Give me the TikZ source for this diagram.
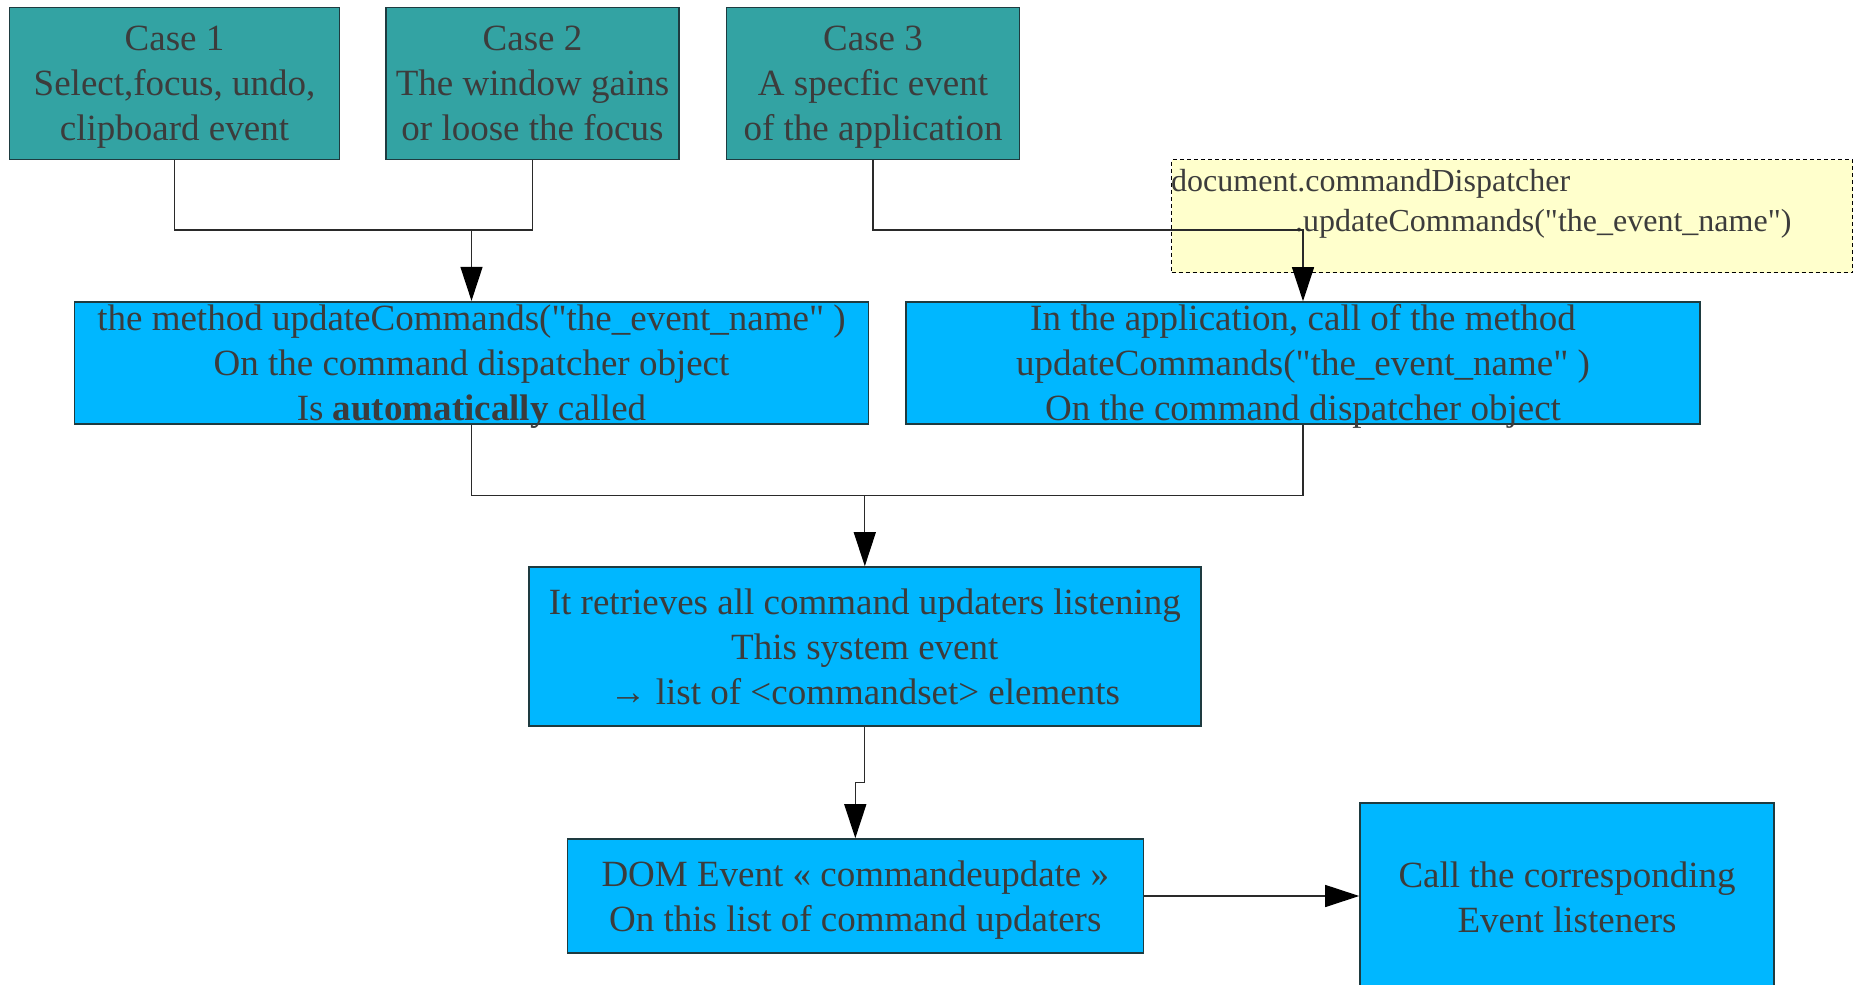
\documentclass[tikz,border=0pt]{standalone}
\usepackage{fontspec}
\setmainfont{Liberation Serif}[Ligatures=TeXOff]
\usepackage{tikz}
\usetikzlibrary{arrows.meta}
\definecolor{caseteal}{HTML}{33A3A3}
\definecolor{stepblue}{HTML}{00B7FF}
\definecolor{notefill}{HTML}{FFFFCC}
\definecolor{edge}{HTML}{1E3B40}
\definecolor{wire}{HTML}{2A2A2A}
\definecolor{txt}{HTML}{3C3C3C}
\newcommand\tstrut{\rule[-8pt]{0pt}{41pt}}
\newcommand\fitfirst[1]{\rule{0pt}{28pt}\smash{#1}}
\newcommand\fitlast[1]{\smash{#1}\rule[-3pt]{0pt}{3pt}}
\begin{document}
\begin{tikzpicture}[x=1pt,y=-1pt]
\tikzstyle{every node}=[inner sep=0pt,align=center,text=txt,font=\fontsize{37}{45}\selectfont];
\tikzstyle{casebox}=[draw=edge,line width=1.6pt,fill=caseteal];
\tikzstyle{stepbox}=[draw=edge,line width=1.6pt,fill=stepblue];
\tikzstyle{notebox}=[draw=black,line width=1.2pt,dash pattern=on 4pt off 3pt,fill=notefill];
\tikzstyle{link}=[line width=1.2pt,draw=wire];
\tikzstyle{arr}=[link,-{Triangle[length=34pt,width=22pt,color=black]}];
\useasboundingbox (0,0) rectangle (1863,985);
% the three cases
\path (174.5,83.3) node[casebox,minimum width=330,minimum height=152] (case1) {\tstrut Case 1\\Select,focus, undo,\\clipboard event\tstrut};
\path (532.5,83.3) node[casebox,minimum width=293,minimum height=152] (case2) {\tstrut Case 2\\The window gains\\or loose the focus\tstrut};
\path (873,83.3) node[casebox,minimum width=293,minimum height=152] (case3) {\tstrut Case 3\\A specfic event\\of the application\tstrut};
% note
\path (1171,159) node[notebox,anchor=north west,minimum width=681,minimum height=113] (note) {};
\path (1171,169) node[anchor=north west,align=left,font=\fontsize{32}{40}\selectfont] (notetext) {document.commandDispatcher\\\hspace*{124pt}.updateCommands("the\_event\_name")};
% steps
\path (471.5,362.7) node[stepbox,minimum width=794,minimum height=122] (autocall) {\fitfirst{the method updateCommands("the\_event\_name" )}\\On the command dispatcher object\\\fitlast{Is \textbf{automatically} called}};
\path (1303,363) node[stepbox,minimum width=794,minimum height=122] (appcall) {\fitfirst{In the application, call of the method}\\updateCommands("the\_event\_name" )\\\fitlast{On the command dispatcher object}};
\path (864.8,646.5) node[stepbox,minimum width=672,minimum height=159] (retrieve) {\tstrut It retrieves all command updaters listening\\This system event\\→ list of <commandset> elements\tstrut};
\path (855.3,896) node[stepbox,minimum width=576,minimum height=114] (domevent) {\tstrut DOM Event « commandeupdate »\\On this list of command updaters\tstrut};
\path (1567,897) node[stepbox,minimum width=414,minimum height=188] (listeners) {\tstrut Call the corresponding\\Event listeners\tstrut};
% junctions
\coordinate (j1) at (471.5,230);
\coordinate (j2) at (864.8,495.5);
\coordinate (j3) at (864.8,782.7);
\draw[link] (case1.south) |- (j1) -| (case2.south);
\draw[arr] (j1) -- (autocall.north);
\draw[arr] (case3.south) -- (case3.south |- j1) -| (appcall.north);
\draw[link] (autocall.south) |- (j2) -| (appcall.south);
\draw[arr] (j2) -- (retrieve.north);
\draw[arr] (retrieve.south) -- (j3) -| (domevent.north);
\draw[arr] (domevent.east) -- (domevent.east -| listeners.west);
\end{tikzpicture}
\end{document}
